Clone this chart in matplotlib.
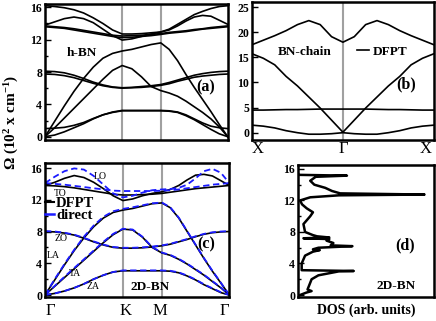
import matplotlib
matplotlib.use("Agg")
import matplotlib.pyplot as plt
from matplotlib.lines import Line2D

plt.rcParams['font.family'] = ['Liberation Serif', 'DejaVu Serif']
plt.rcParams['font.weight'] = 'bold'
plt.rcParams['mathtext.default'] = 'regular'

# q-path: Gamma=0, K=1, M=1.5, Gamma=2.366
PATH_X = [0, 0.125, 0.25, 0.375, 0.5, 0.625, 0.75, 0.875, 1.0,
          1.125, 1.25, 1.375, 1.5,
          1.608, 1.717, 1.825, 1.933, 2.041, 2.149, 2.258, 2.366]
SYM_POS = [0, 1.0, 1.5, 2.366]
SYM_LABELS = ['Γ', 'K', 'M', 'Γ']

# (a) bulk h-BN bands (10^2 cm^-1)
ZA_a = [0, 0.2, 0.6, 1.1, 1.6, 2.2, 2.7, 3.0, 3.2, 3.2, 3.2, 3.2, 3.2,
        3.15, 3.0, 2.6, 2.1, 1.5, 0.9, 0.35, 0.0]
ZA2_a = [1.0, 1.05, 1.15, 1.4, 1.75, 2.25, 2.7, 3.05, 3.25, 3.25, 3.25, 3.25, 3.25,
         3.2, 3.05, 2.7, 2.2, 1.7, 1.3, 1.1, 1.0]
TA_a = [0, 1.1, 2.3, 3.5, 4.7, 5.9, 7.1, 8.2, 8.8, 8.4, 7.4, 6.2, 5.7,
        5.4, 5.0, 4.4, 3.7, 3.0, 2.2, 1.2, 0.0]
LA_a = [0, 1.9, 3.8, 5.6, 7.2, 8.6, 9.7, 10.3, 10.6, 10.8, 11.1, 11.4, 11.6,
        10.8, 9.4, 7.7, 6.1, 4.6, 3.1, 1.5, 0.0]
ZO1_a = [8.1, 8.05, 7.9, 7.6, 7.2, 6.75, 6.4, 6.15, 6.05, 6.1, 6.2, 6.3, 6.45,
         6.7, 7.0, 7.3, 7.6, 7.8, 7.95, 8.05, 8.1]
ZO2_a = [7.75, 7.7, 7.55, 7.3, 6.95, 6.6, 6.3, 6.1, 6.0, 6.05, 6.1, 6.2, 6.35,
         6.55, 6.85, 7.1, 7.35, 7.5, 7.6, 7.7, 7.75]
TO1_a = [13.7, 13.6, 13.5, 13.35, 13.15, 12.95, 12.75, 12.55, 12.45, 12.5, 12.55, 12.65, 12.75,
         12.9, 13.0, 13.1, 13.25, 13.35, 13.5, 13.6, 13.7]
TO2_a = [13.6, 13.5, 13.4, 13.2, 13.0, 12.8, 12.6, 12.4, 12.25, 12.3, 12.4, 12.5, 12.65,
         12.8, 12.9, 13.0, 13.15, 13.3, 13.4, 13.5, 13.6]
LO1_a = [16.2, 16.1, 15.95, 15.7, 15.3, 14.7, 14.0, 13.2, 12.7, 12.7, 12.75, 12.85, 12.95,
         13.3, 13.9, 14.5, 15.1, 15.5, 15.85, 16.1, 16.2]
LO2_a = [13.8, 14.2, 14.6, 14.8, 14.6, 14.1, 13.3, 12.5, 11.95, 12.1, 12.4, 12.7, 12.95,
         13.2, 13.7, 14.3, 14.8, 15.0, 14.9, 14.4, 13.9]

# (c) 2D-BN, DFPT
ZA_c = [0, 0.2, 0.5, 0.9, 1.4, 2.0, 2.5, 2.9, 3.05, 3.05, 3.05, 3.05, 3.05,
        3.0, 2.8, 2.4, 1.9, 1.3, 0.8, 0.3, 0.0]
TA_c = [0, 1.1, 2.2, 3.3, 4.4, 5.5, 6.6, 7.6, 8.3, 8.2, 7.3, 6.0, 5.3,
        5.0, 4.5, 3.9, 3.2, 2.5, 1.7, 0.9, 0.0]
LA_c = [0, 1.9, 3.8, 5.6, 7.2, 8.6, 9.7, 10.4, 10.7, 10.9, 11.2, 11.5, 11.6,
        11.0, 9.7, 8.0, 6.3, 4.6, 3.0, 1.5, 0.0]
ZO_c = [8.0, 7.95, 7.8, 7.55, 7.15, 6.7, 6.3, 6.0, 5.9, 5.9, 5.95, 6.05, 6.2,
        6.4, 6.7, 7.0, 7.35, 7.65, 7.85, 7.95, 8.0]
TO_c = [13.8, 13.75, 13.65, 13.5, 13.3, 13.1, 12.9, 12.7, 12.6, 12.6, 12.65, 12.7, 12.8,
        12.95, 13.1, 13.25, 13.4, 13.5, 13.6, 13.7, 13.8]
LO_c = [13.8, 14.2, 14.7, 15.05, 14.8, 14.2, 13.4, 12.5, 11.9, 12.1, 12.5, 12.8, 13.0,
        13.3, 13.8, 14.5, 15.1, 15.2, 15.0, 14.4, 13.8]

# (c) 2D-BN, direct method
ZA_d = [0, 0.2, 0.5, 0.9, 1.4, 2.0, 2.5, 2.9, 3.1, 3.1, 3.1, 3.1, 3.1,
        3.05, 2.85, 2.45, 1.95, 1.35, 0.85, 0.35, 0.0]
TA_d = [0, 1.15, 2.3, 3.4, 4.5, 5.6, 6.7, 7.7, 8.35, 8.25, 7.35, 6.05, 5.35,
        5.05, 4.55, 3.95, 3.25, 2.55, 1.75, 0.95, 0.0]
LA_d = [0, 2.0, 3.9, 5.7, 7.35, 8.75, 9.85, 10.55, 10.85, 11.05, 11.3, 11.55, 11.65,
        11.05, 9.75, 8.05, 6.35, 4.65, 3.05, 1.55, 0.0]
ZO_d = [8.05, 8.0, 7.85, 7.6, 7.2, 6.75, 6.35, 6.05, 5.95, 5.95, 6.0, 6.1, 6.25,
        6.45, 6.75, 7.05, 7.4, 7.7, 7.9, 8.0, 8.05]
TO_d = [14.1, 14.0, 13.9, 13.75, 13.6, 13.45, 13.3, 13.15, 13.1, 13.1, 13.1, 13.1, 13.15,
        13.2, 13.3, 13.45, 13.6, 13.75, 13.9, 14.0, 14.1]
LO_d = [14.1, 14.9, 15.6, 15.95, 15.8, 15.0, 13.9, 12.8, 12.3, 12.5, 12.9, 13.2, 13.3,
        13.35, 13.5, 13.9, 14.7, 15.6, 15.9, 15.4, 14.1]

# (b) BN chain, X -> Gamma half (mirrored to Gamma -> X)
CH_X = [-1, -0.875, -0.75, -0.625, -0.5, -0.375, -0.25, -0.125, 0]
CH_1 = [17.5, 18.4, 19.3, 20.3, 21.5, 22.3, 21.5, 19.1, 18.0]
CH_2 = [15.7, 14.8, 13.5, 11.2, 9.3, 7.1, 4.9, 2.5, 0.1]
CH_3 = [4.5, 4.5, 4.55, 4.6, 4.6, 4.65, 4.7, 4.7, 4.7]
CH_4 = [1.5, 1.3, 0.95, 0.4, 0.0, -0.3, -0.3, -0.2, 0.0]
CH_LABELS = ['X', 'Γ', 'X']

# (d) DOS of 2D-BN
DOS_FREQ = [0, 0.3, 0.5, 0.7, 1.0, 2.0, 2.5, 2.8, 3.0, 3.05, 3.15, 4.0, 5.0, 5.5,
            5.7, 5.8, 6.0, 6.2, 6.3, 6.6, 6.9, 7.1, 7.2, 7.3, 7.45, 7.6, 8.0, 9.0,
            10.0, 10.5, 11.0, 11.5, 12.0, 12.4, 12.65, 12.75, 12.9, 13.2, 13.6,
            14.0, 14.5, 15.0, 15.15, 15.25, 15.35]
DOS_VAL = [0.015, 0.06, 0.10, 0.07, 0.077, 0.10, 0.15, 0.24, 0.30, 0.41, 0.027,
           0.027, 0.052, 0.11, 0.16, 0.11, 0.15, 0.40, 0.24, 0.26, 0.21, 0.23,
           0.04, 0.23, 0.14, 0.11, 0.052, 0.04, 0.09, 0.11, 0.064, 0.03, 0.015,
           0.09, 0.30, 0.93, 0.31, 0.25, 0.2, 0.12, 0.09, 0.13, 0.36, 0.0, 0.0]

bands_a = [ZA_a, ZA2_a, TA_a, LA_a, ZO1_a, ZO2_a, TO1_a, TO2_a, LO1_a, LO2_a]
bands_c = [ZA_c, TA_c, LA_c, ZO_c, TO_c, LO_c]
bands_d = [ZA_d, TA_d, LA_d, ZO_d, TO_d, LO_d]

GRAY = '#a0a0a0'
BLUE = '#1a1aff'
SPINE_W = 1.8


def style_axes(ax):
    for s in ax.spines.values():
        s.set_linewidth(SPINE_W)
    ax.tick_params(axis='y', direction='in', length=4, width=1, labelsize=8.5, pad=2)
    ax.tick_params(axis='y', which='minor', direction='in', length=2.5, width=1)
    ax.tick_params(axis='x', length=0)


fig = plt.figure(figsize=(4.36, 3.21), dpi=100)

# ---- (a) bulk h-BN ----
ax_a = fig.add_axes([0.1032, 0.5639, 0.419, 0.4236])
for b in bands_a:
    ax_a.plot(PATH_X, b, color='black', lw=1.2)
for p in SYM_POS[1:3]:
    ax_a.axvline(p, color=GRAY, lw=1.5, zorder=0)
ax_a.set_xlim(0, 2.366)
ax_a.set_ylim(-0.41, 16.41)
ax_a.set_yticks([0, 4, 8, 12, 16])
ax_a.set_yticks([2, 6, 10, 14], minor=True)
ax_a.set_xticks([])
style_axes(ax_a)
ax_a.text(0.20, 0.64, 'h-BN', transform=ax_a.transAxes, fontsize=9.5,
          ha='center', va='center')
ax_a.text(0.88, 0.39, '(a)', transform=ax_a.transAxes, fontsize=11.5,
          ha='center', va='center')

# ---- (b) BN chain ----
ax_b = fig.add_axes([0.578, 0.5639, 0.417, 0.4299])
full_x = CH_X + [-v for v in CH_X[::-1][1:]]
for half in [CH_1, CH_2, CH_3, CH_4]:
    ax_b.plot(full_x, half + half[::-1][1:], color='black', lw=1.2)
ax_b.axvline(0, color=GRAY, lw=1.5, zorder=0)
ax_b.set_xlim(-1, 1)
ax_b.set_ylim(-1.45, 26.0)
ax_b.set_yticks([0, 5, 10, 15, 20, 25])
# symmetry labels sit a little inside the frame, as in the original
ax_b.set_xticks([-0.935, 0, 0.915])
ax_b.set_xticklabels(CH_LABELS, fontsize=12, fontweight='normal')
style_axes(ax_b)
ax_b.tick_params(axis='x', pad=1)
ax_b.text(0.29, 0.64, 'BN-chain', transform=ax_b.transAxes, fontsize=9.5,
          ha='center', va='center')
ax_b.legend(handles=[Line2D([], [], color='black', lw=1.2)], labels=['DFPT'],
            loc='center left', bbox_to_anchor=(0.54, 0.64), frameon=False,
            handlelength=0.9, handletextpad=0.3, borderpad=0,
            prop={'size': 9.5, 'weight': 'bold'})
ax_b.text(0.846, 0.40, '(b)', transform=ax_b.transAxes, fontsize=11.5,
          ha='center', va='center')

# ---- (c) 2D-BN dispersion ----
ax_c = fig.add_axes([0.1032, 0.0748, 0.4227, 0.4174])
for b in bands_c:
    ax_c.plot(PATH_X, b, color='black', lw=1.2)
for b in bands_d:
    ax_c.plot(PATH_X, b, color=BLUE, lw=1.3, ls=(0, (3.5, 2)))
for p in SYM_POS[1:3]:
    ax_c.axvline(p, color=GRAY, lw=1.5, zorder=0)
ax_c.set_xlim(0, 2.366)
ax_c.set_ylim(-0.25, 16.63)
ax_c.set_yticks([0, 4, 8, 12, 16])
ax_c.set_yticks([2, 6, 10, 14], minor=True)
ax_c.set_xticks([SYM_POS[0] + 0.07, SYM_POS[1] + 0.03, SYM_POS[2] - 0.02,
                 SYM_POS[3] - 0.07])
ax_c.set_xticklabels(SYM_LABELS, fontsize=12, fontweight='normal')
style_axes(ax_c)
ax_c.tick_params(axis='x', pad=4)
for lab, x, y in [('LO', 0.30, 0.90), ('TO', 0.08, 0.776), ('ZO', 0.087, 0.44),
                  ('LA', 0.043, 0.306), ('TA', 0.163, 0.179), ('ZA', 0.26, 0.075)]:
    ax_c.text(x, y, lab, transform=ax_c.transAxes, fontsize=7,
              fontweight='normal', ha='center', va='center')
ax_c.text(0.57, 0.075, '2D-BN', transform=ax_c.transAxes, fontsize=9.5,
          ha='center', va='center')
ax_c.text(0.875, 0.396, '(c)', transform=ax_c.transAxes, fontsize=11.5,
          ha='center', va='center')
ax_c.legend(handles=[Line2D([], [], color='black', lw=1.5),
                     Line2D([], [], color=BLUE, lw=1.8)],
            labels=['DFPT', 'direct'], loc='upper left',
            bbox_to_anchor=(0.0, 0.745), frameon=False, handlelength=0.6,
            handletextpad=0.15, labelspacing=-0.1, borderpad=0, borderaxespad=0,
            prop={'size': 10.5, 'weight': 'bold'})

# ---- (d) DOS ----
ax_d = fig.add_axes([0.6835, 0.0748, 0.3119, 0.4112])
ax_d.plot(DOS_VAL, DOS_FREQ, color='black', lw=1.8)
ax_d.set_xlim(0, 1)
ax_d.set_ylim(-0.25, 16.5)
ax_d.set_yticks([0, 4, 8, 12, 16])
ax_d.set_yticks([2, 6, 10, 14], minor=True)
ax_d.set_xticks([])
style_axes(ax_d)
ax_d.set_xlabel('DOS (arb. units)', fontsize=10, fontweight='bold', labelpad=5)
ax_d.text(0.787, 0.394, '(d)', transform=ax_d.transAxes, fontsize=11.5,
          ha='center', va='center')
ax_d.text(0.72, 0.083, '2D-BN', transform=ax_d.transAxes, fontsize=9.5,
          ha='center', va='center')

fig.text(0.027, 0.62, 'Ω (10$^2$ x cm$^{-1}$)', rotation=90, fontsize=11,
         fontweight='bold', ha='center', va='center')

fig.savefig('out.png', dpi=100)
